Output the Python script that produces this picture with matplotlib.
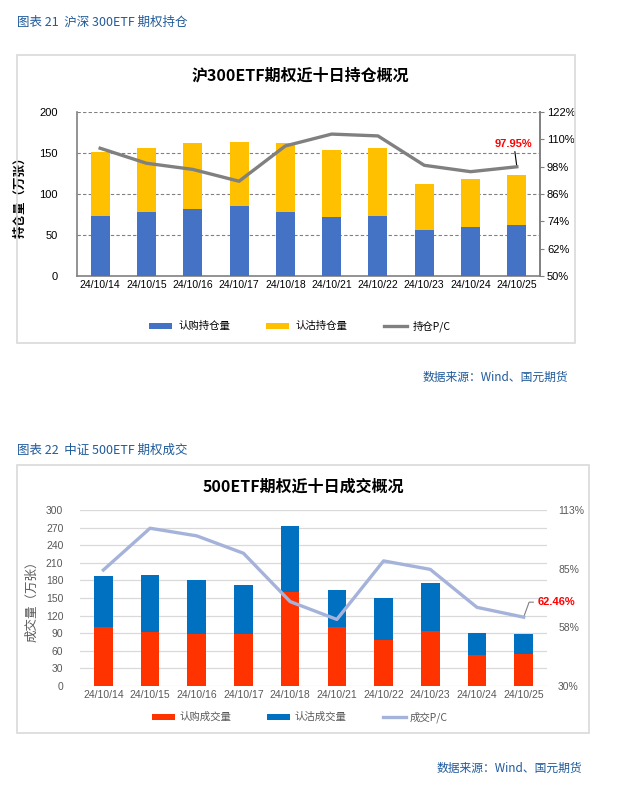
import matplotlib
matplotlib.use("Agg")
import matplotlib.pyplot as plt
from matplotlib.patches import Rectangle

plt.rcParams['font.family'] = ['Liberation Sans', 'Noto Sans CJK SC', 'DejaVu Sans']
plt.rcParams['axes.unicode_minus'] = False

dates = ["24/10/14", "24/10/15", "24/10/16", "24/10/17", "24/10/18",
         "24/10/21", "24/10/22", "24/10/23", "24/10/24", "24/10/25"]

# Chart 1: 300ETF open interest (万张)
oi_call = [73, 78, 82, 85, 78, 72, 73, 56, 60, 62]
oi_put = [78, 78, 80, 78, 84, 82, 83, 56, 58, 61]
oi_pc = [106.1, 99.5, 96.8, 91.6, 107.1, 112.3, 111.5, 98.6, 95.8, 97.95]

# Chart 2: 500ETF volume (万张)
vol_call = [101, 92, 89, 89, 160, 101, 78, 94, 53, 55]
vol_put = [87, 97, 92, 83, 113, 63, 72, 82, 37, 34]
vol_pc = [84.7, 104.4, 100.8, 92.6, 69.8, 61.4, 89.0, 85.0, 67.1, 62.46]

W, H = 627, 792
fig = plt.figure(figsize=(W / 100, H / 100), dpi=100)


def fx(x):
    return x / W


def fy(y):
    return 1 - y / H


def add_axes_px(l, t, r, b):
    return fig.add_axes([fx(l), fy(b), fx(r - l), (b - t) / H])


blue_hdr = '#1F5A9A'
cjk = ['Noto Sans CJK SC', 'DejaVu Sans']

# ---------------- Chart 1 ----------------
fig.text(fx(17), fy(22), "图表 21  沪深 300ETF 期权持仓", color=blue_hdr,
         fontsize=9, va='center', ha='left', family=cjk)
fig.patches.append(Rectangle((fx(17), fy(343)), fx(575 - 17), (343 - 55) / H,
                             transform=fig.transFigure, fill=False,
                             edgecolor='#D9D9D9', lw=1.2))
fig.text(fx(300), fy(75), "沪300ETF期权近十日持仓概况", fontsize=11.5,
         fontweight='bold', ha='center', va='center', color='#000000', family=cjk)

ax1 = add_axes_px(77, 112, 540, 276)
x = list(range(len(dates)))
b1 = ax1.bar(x, oi_call, width=0.41, color='#4472C4', zorder=3)
b2 = ax1.bar(x, oi_put, width=0.41, bottom=oi_call, color='#FFC000', zorder=3)
ax1.set_xlim(-0.5, len(dates) - 0.5)
ax1.set_ylim(0, 200)
ax1.set_yticks([0, 50, 100, 150, 200])
ax1.yaxis.grid(True, linestyle=(0, (3, 2)), color='#808080', lw=0.8, zorder=0)
ax1.set_axisbelow(True)
ax1.set_xticks(x)
ax1.set_xticklabels(dates, fontsize=7.5, color='#000000')
ax1.tick_params(axis='x', length=0, pad=3)
ax1.tick_params(axis='y', length=0, labelsize=8, colors='#000000', pad=14)
ax1.spines['top'].set_visible(False)
for s in ['left', 'bottom', 'right']:
    ax1.spines[s].set_color('#808080')
    ax1.spines[s].set_linewidth(1.2)
ax1.set_ylabel("持仓量（万张）", fontsize=9, fontweight='bold', labelpad=9,
               family=cjk)

ax1r = ax1.twinx()
l1, = ax1r.plot(x, oi_pc, color='#808080', lw=2.4, zorder=4,
                solid_joinstyle='round')
ax1r.set_ylim(50, 122)
rt1 = [50, 62, 74, 86, 98, 110, 122]
ax1r.set_yticks(rt1)
ax1r.set_yticklabels([f"{v}%" for v in rt1])
ax1r.tick_params(axis='y', length=3, labelsize=8, colors='#000000', pad=2,
                 color='#808080')
for s in ['top', 'left', 'bottom']:
    ax1r.spines[s].set_visible(False)
ax1r.spines['right'].set_color('#808080')
ax1r.spines['right'].set_linewidth(1.2)
ax1r.annotate(f"{oi_pc[-1]:.2f}%", xy=(x[-1], oi_pc[-1]), xytext=(-3, 18),
              textcoords='offset pixels', color='#FF0000', fontsize=8,
              fontweight='bold', ha='center', va='bottom',
              arrowprops=dict(arrowstyle='-', color='#000000', lw=0.8,
                              shrinkA=0, shrinkB=1))
fig.legend(handles=[b1, b2, l1], labels=['认购持仓量', '认沽持仓量', '持仓P/C'],
           loc='center', bbox_to_anchor=(fx(300), fy(326)), ncol=3,
           frameon=False, fontsize=7.5, handlelength=2.2, handleheight=0.5,
           columnspacing=3.5, handletextpad=0.6, prop={'family': cjk, 'size': 7.5})

fig.text(fx(568), fy(377), "数据来源：Wind、国元期货", color=blue_hdr,
         fontsize=8.5, ha='right', va='center', family=cjk)

# ---------------- Chart 2 ----------------
fig.text(fx(17), fy(450), "图表 22  中证 500ETF 期权成交", color=blue_hdr,
         fontsize=9, va='center', ha='left', family=cjk)
fig.patches.append(Rectangle((fx(17), fy(733)), fx(589 - 17), (733 - 465) / H,
                             transform=fig.transFigure, fill=False,
                             edgecolor='#D9D9D9', lw=1.2))
fig.text(fx(303), fy(487), "500ETF期权近十日成交概况", fontsize=11.5,
         fontweight='bold', ha='center', va='center', color='#000000', family=cjk)

ax2 = add_axes_px(80, 510, 547, 686)
c1 = ax2.bar(x, vol_call, width=0.4, color='#FF3300', zorder=3)
c2 = ax2.bar(x, vol_put, width=0.4, bottom=vol_call, color='#0070C0', zorder=3)
ax2.set_xlim(-0.5, len(dates) - 0.5)
ax2.set_ylim(0, 300)
ax2.set_yticks(list(range(0, 301, 30)))
ax2.yaxis.grid(True, color='#D9D9D9', lw=0.9, zorder=0)
ax2.set_axisbelow(True)
ax2.set_xticks(x)
ax2.set_xticklabels(dates, fontsize=7.5, color='#595959')
ax2.tick_params(axis='x', length=0, pad=3)
ax2.tick_params(axis='y', length=0, labelsize=7.5, colors='#595959', pad=12)
for s in ['top', 'left', 'right', 'bottom']:
    ax2.spines[s].set_visible(False)
ax2.set_ylabel("成交量（万张）", fontsize=9, color='#595959', labelpad=5,
               family=cjk)

ax2r = ax2.twinx()
l2, = ax2r.plot(x, vol_pc, color='#A5B3DA', lw=2.4, zorder=4,
                solid_joinstyle='round')
ax2r.set_ylim(30, 113)
rt = [30, 30 + 83 / 3, 30 + 166 / 3, 113]
ax2r.set_yticks(rt)
ax2r.set_yticklabels([f"{round(v)}%" for v in rt])
ax2r.tick_params(axis='y', length=0, labelsize=7.5, colors='#595959', pad=8)
for s in ['top', 'left', 'right', 'bottom']:
    ax2r.spines[s].set_visible(False)
ax2r.annotate(f"{vol_pc[-1]:.2f}%", xy=(x[-1], vol_pc[-1]), xytext=(14, 15),
              textcoords='offset pixels', color='#FF0000', fontsize=8,
              fontweight='bold', ha='left', va='center',
              arrowprops=dict(arrowstyle='-', color='#808080', lw=0.8,
                              shrinkA=1, shrinkB=1,
                              connectionstyle='angle,angleA=0,angleB=70,rad=0'))
fig.legend(handles=[c1, c2, l2], labels=['认购成交量', '认沽成交量', '成交P/C'],
           loc='center', bbox_to_anchor=(fx(300), fy(717)), ncol=3,
           frameon=False, handlelength=2.2, handleheight=0.5,
           columnspacing=3.5, handletextpad=0.4, labelcolor='#595959',
           prop={'family': cjk, 'size': 7.5})

fig.text(fx(582), fy(768), "数据来源：Wind、国元期货", color=blue_hdr,
         fontsize=8.5, ha='right', va='center', family=cjk)

fig.savefig("out.png", dpi=100)
